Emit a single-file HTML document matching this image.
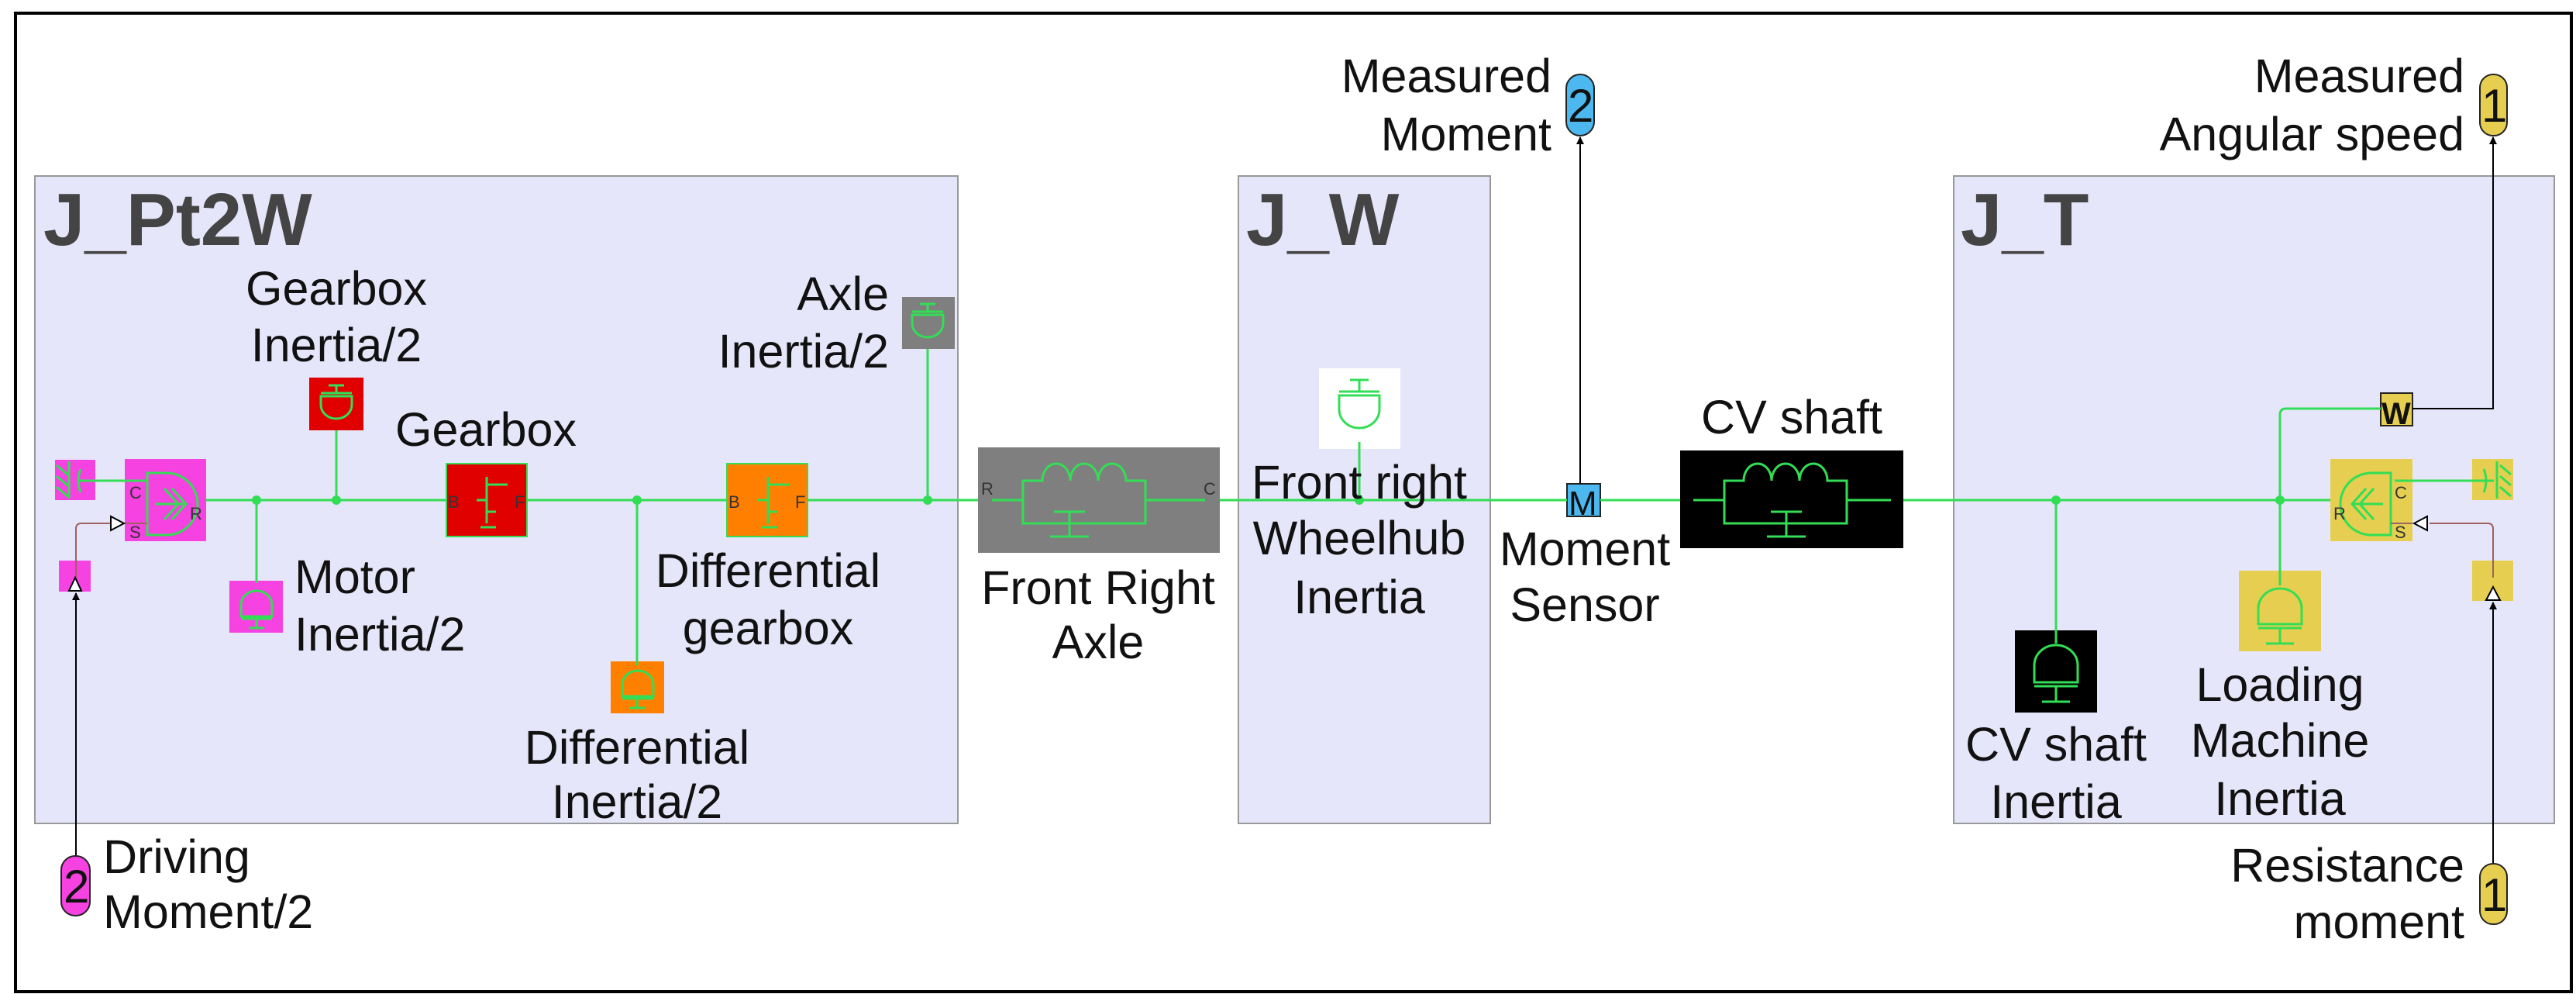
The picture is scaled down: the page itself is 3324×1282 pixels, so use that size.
<!DOCTYPE html>
<html><head><meta charset="utf-8"><style>
html,body{margin:0;padding:0;background:#fff}
svg{display:block}
text{font-family:"Liberation Sans",sans-serif;fill:#111}
.l{font-size:61px}
.t{font-size:96px;font-weight:bold;fill:#444}
.p{font-size:22px;fill:#333}
</style></head><body>
<svg width="3324" height="1282" viewBox="0 0 3324 1282" xmlns="http://www.w3.org/2000/svg">
<defs>
<marker id="ah" markerWidth="10" markerHeight="10" refX="9" refY="5" orient="auto" markerUnits="userSpaceOnUse"><path d="M0,0 L10,5 L0,10 Z" fill="#000"/></marker>
</defs>
<rect x="20" y="17" width="3298" height="1262" fill="#fff" stroke="#000" stroke-width="4"/>
<rect x="45" y="227" width="1191" height="835" fill="#e6e6fa" stroke="#999" stroke-width="2"/>
<rect x="1598" y="227" width="325" height="835" fill="#e6e6fa" stroke="#999" stroke-width="2"/>
<rect x="2521" y="227" width="775" height="835" fill="#e6e6fa" stroke="#999" stroke-width="2"/>
<text class="t" x="56" y="316">J_Pt2W</text>
<text class="t" x="1608" y="316">J_W</text>
<text class="t" x="2530" y="316">J_T</text>

<rect x="71" y="593" width="52" height="52" fill="#f542e0"/>
<rect x="161" y="592" width="105" height="106" fill="#f542e0"/>
<rect x="76" y="723" width="41" height="40" fill="#f542e0"/>
<rect x="296" y="749" width="69" height="67" fill="#f542e0"/>
<rect x="399" y="487" width="70" height="68" fill="#e00000"/>
<rect x="576" y="598" width="104" height="94" fill="#e00000" stroke="#33dd55" stroke-width="2"/>
<rect x="938" y="598" width="104" height="94" fill="#ff8000" stroke="#33dd55" stroke-width="2"/>
<rect x="788" y="853" width="69" height="67" fill="#ff8000"/>
<rect x="1164" y="383" width="68" height="67" fill="#7f7f7f"/>
<rect x="1262" y="577" width="312" height="136" fill="#7f7f7f"/>
<rect x="1702" y="475" width="105" height="104" fill="#fff"/>
<rect x="2022" y="624" width="43" height="42" fill="#4db8f0" stroke="#222" stroke-width="2"/>
<rect x="2168" y="581" width="288" height="126" fill="#000"/>
<rect x="2600" y="813" width="106" height="106" fill="#000"/>
<rect x="2889" y="736" width="106" height="104" fill="#e6cf50"/>
<rect x="3007" y="592" width="106" height="106" fill="#e6cf50"/>
<rect x="3190" y="592" width="53" height="53" fill="#e6cf50"/>
<rect x="3190" y="723" width="53" height="52" fill="#e6cf50"/>
<rect x="3072" y="507" width="41" height="42" fill="#e6cf50" stroke="#222" stroke-width="2"/>

<g stroke="#33dd55" stroke-width="3" fill="none">
<line x1="266" y1="645" x2="576" y2="645"/>
<line x1="680" y1="645" x2="938" y2="645"/>
<line x1="1042" y1="645" x2="1262" y2="645"/>
<line x1="1574" y1="645" x2="2022" y2="645"/>
<line x1="2065" y1="645" x2="2168" y2="645"/>
<line x1="2456" y1="645" x2="3007" y2="645"/>
<line x1="100" y1="620" x2="190" y2="620"/>
<line x1="331" y1="645" x2="331" y2="752"/>
<line x1="434" y1="555" x2="434" y2="645"/>
<line x1="822" y1="645" x2="822" y2="858"/>
<line x1="1197" y1="450" x2="1197" y2="645"/>
<line x1="1754" y1="570" x2="1754" y2="645"/>
<line x1="2653" y1="645" x2="2653" y2="830"/>
<line x1="2942" y1="645" x2="2942" y2="755"/>
<path d="M2942 645 V535 Q2942 527 2950 527 H3072"/>
<line x1="3090" y1="620" x2="3218" y2="620"/>
<path d="M190 610 H215 A40 40 0 0 1 215 690 H190 Z"/>
<path d="M200 650 H240 M222 630 L240 650 L222 670 M212 630 L230 650 L212 670"/>
<path d="M3085 610 H3060 A40 40 0 0 0 3060 690 H3085 Z"/>
<path d="M3075 650 H3035 M3053 630 L3035 650 L3053 670 M3063 630 L3045 650 L3063 670"/>
<line x1="89" y1="595" x2="89" y2="643"/>
<path d="M73 600 L87 612 M73 614 L87 626 M73 628 L87 640"/>
<path d="M104 605 Q98 620 104 635"/>
<line x1="3222" y1="595" x2="3222" y2="643"/>
<path d="M3226 600 L3240 612 M3226 614 L3240 626 M3226 628 L3240 640"/>
<path d="M3205 605 Q3211 620 3205 635"/>
<path d="M615 645 H628 M628 615 V675 M628 625 H655 M620 680 H640 M628 660 H640"/>
<path d="M978 645 H991 M991 615 V675 M991 625 H1018 M983 680 H1003 M991 660 H1003"/>
<path d="M424 497 H444 M434 497 V507 M414 507 H454 M414 511 V522 A20 18 0 0 0 454 522 V511 Z"/>
<path d="M1187 392 H1207 M1197 392 V402 M1177 402 H1217 M1177 406 V417 A20 18 0 0 0 1217 417 V406 Z"/>
<path d="M1742 490 H1766 M1754 490 V505 M1728 505 H1780 M1728 510 V528 A26 24 0 0 0 1780 528 V510 Z"/>
<path d="M311 795 V780 A20 18 0 0 1 351 780 V795 Z M311 798 H351 M331 798 V810 M321 810 H341"/>
<path d="M803 898 V883 A20 18 0 0 1 843 883 V898 Z M803 901 H843 M822 901 V913 M812 913 H832"/>
<path d="M2625 880 V858 A28 26 0 0 1 2681 858 V880 Z M2625 885 H2681 M2653 885 V905 M2635 905 H2671"/>
<path d="M2914 805 V785 A28 26 0 0 1 2970 785 V805 Z M2914 810 H2970 M2942 810 V830 M2924 830 H2960"/>
<path d="M1280 645 H1320 V620 H1345 A18 22 0 1 1 1381 620 A18 22 0 1 1 1417 620 A18 22 0 1 1 1453 620 H1478 V675 H1320 V645 M1478 645 H1555 M1380 675 V692 M1360 660 H1400 M1380 660 V692 M1355 692 H1405"/>
<path d="M2185 645 H2225 V620 H2250 A18 22 0 1 1 2286 620 A18 22 0 1 1 2322 620 A18 22 0 1 1 2358 620 H2383 V675 H2225 V645 M2383 645 H2440 M2285 660 H2325 M2305 660 V692 M2280 692 H2330"/>
</g>
<g fill="#33dd55">
<circle cx="331" cy="645" r="6"/><circle cx="434" cy="645" r="6"/><circle cx="822" cy="645" r="6"/><circle cx="1197" cy="645" r="6"/><circle cx="1754" cy="645" r="6"/><circle cx="2653" cy="645" r="6"/><circle cx="2942" cy="645" r="6"/>
</g>
<text class="p" x="167" y="643">C</text><text class="p" x="167" y="694">S</text><text class="p" x="245" y="670">R</text>
<text class="p" x="578" y="655">B</text><text class="p" x="664" y="655">F</text>
<text class="p" x="940" y="655">B</text><text class="p" x="1026" y="655">F</text>
<text class="p" x="1266" y="638">R</text><text class="p" x="1553" y="638">C</text>
<text class="p" x="3090" y="643">C</text><text class="p" x="3090" y="694">S</text><text class="p" x="3011" y="670">R</text>
<text x="2024" y="664" style="font-size:44px;fill:#111">M</text>
<text x="3073" y="547" style="font-size:40px;font-weight:bold;fill:#111">W</text>

<g stroke="#000" stroke-width="2" fill="none">
<line x1="98" y1="1105" x2="98" y2="765" marker-end="url(#ah)"/>
<line x1="2039" y1="624" x2="2039" y2="177" marker-end="url(#ah)"/>
<path d="M3113 527 H3217 V177" marker-end="url(#ah)"/>
<line x1="3217" y1="1114" x2="3217" y2="777" marker-end="url(#ah)"/>
</g>
<g stroke="#a06060" stroke-width="2" fill="none">
<path d="M98 745 V682 Q98 675 105 675 H142"/>
<path d="M3217 745 V682 Q3217 675 3210 675 H3135"/>
<line x1="190" y1="675" x2="160" y2="675"/>
<line x1="3085" y1="675" x2="3113" y2="675"/>
</g>
<g fill="#fff" stroke="#000" stroke-width="2">
<path d="M143 666 L160 675 L143 684 Z"/>
<path d="M3132 666 L3115 675 L3132 684 Z"/>
<path d="M89 762 L97 745 L105 762 Z"/>
<path d="M3208 774 L3217 757 L3226 774 Z"/>
</g>

<rect x="79" y="1104" width="37" height="77" rx="18" fill="#f542e0" stroke="#222" stroke-width="2"/>
<text x="82" y="1164" style="font-size:60px">2</text>
<rect x="2021" y="96" width="36" height="79" rx="18" fill="#4db8f0" stroke="#222" stroke-width="2"/>
<text x="2023" y="157" style="font-size:60px">2</text>
<rect x="3200" y="96" width="35" height="79" rx="17" fill="#e6cf50" stroke="#222" stroke-width="2"/>
<text x="3202" y="157" style="font-size:60px">1</text>
<rect x="3200" y="1114" width="35" height="78" rx="17" fill="#e6cf50" stroke="#222" stroke-width="2"/>
<text x="3202" y="1175" style="font-size:60px">1</text>

<g>
<text class="l" x="434" y="393" text-anchor="middle">Gearbox</text>
<text class="l" x="434" y="466" text-anchor="middle">Inertia/2</text>
<text class="l" x="510" y="575">Gearbox</text>
<text class="l" x="1147" y="400" text-anchor="end">Axle</text>
<text class="l" x="1147" y="474" text-anchor="end">Inertia/2</text>
<text class="l" x="380" y="765">Motor</text>
<text class="l" x="380" y="839">Inertia/2</text>
<text class="l" x="991" y="757" text-anchor="middle">Differential</text>
<text class="l" x="991" y="831" text-anchor="middle">gearbox</text>
<text class="l" x="822" y="985" text-anchor="middle">Differential</text>
<text class="l" x="822" y="1055" text-anchor="middle">Inertia/2</text>
<text class="l" x="133" y="1126">Driving</text>
<text class="l" x="133" y="1197">Moment/2</text>
<text class="l" x="1417" y="779" text-anchor="middle">Front Right</text>
<text class="l" x="1417" y="849" text-anchor="middle">Axle</text>
<text class="l" x="1754" y="643" text-anchor="middle">Front right</text>
<text class="l" x="1754" y="715" text-anchor="middle">Wheelhub</text>
<text class="l" x="1754" y="791" text-anchor="middle">Inertia</text>
<text class="l" x="2045" y="729" text-anchor="middle">Moment</text>
<text class="l" x="2045" y="801" text-anchor="middle">Sensor</text>
<text class="l" x="2002" y="119" text-anchor="end">Measured</text>
<text class="l" x="2002" y="194" text-anchor="end">Moment</text>
<text class="l" x="2312" y="559" text-anchor="middle">CV shaft</text>
<text class="l" x="2653" y="981" text-anchor="middle">CV shaft</text>
<text class="l" x="2653" y="1055" text-anchor="middle">Inertia</text>
<text class="l" x="2942" y="904" text-anchor="middle">Loading</text>
<text class="l" x="2942" y="976" text-anchor="middle">Machine</text>
<text class="l" x="2942" y="1051" text-anchor="middle">Inertia</text>
<text class="l" x="3180" y="119" text-anchor="end">Measured</text>
<text class="l" x="3180" y="194" text-anchor="end">Angular speed</text>
<text class="l" x="3180" y="1137" text-anchor="end">Resistance</text>
<text class="l" x="3180" y="1210" text-anchor="end">moment</text>
</g>
</svg>
</body></html>
